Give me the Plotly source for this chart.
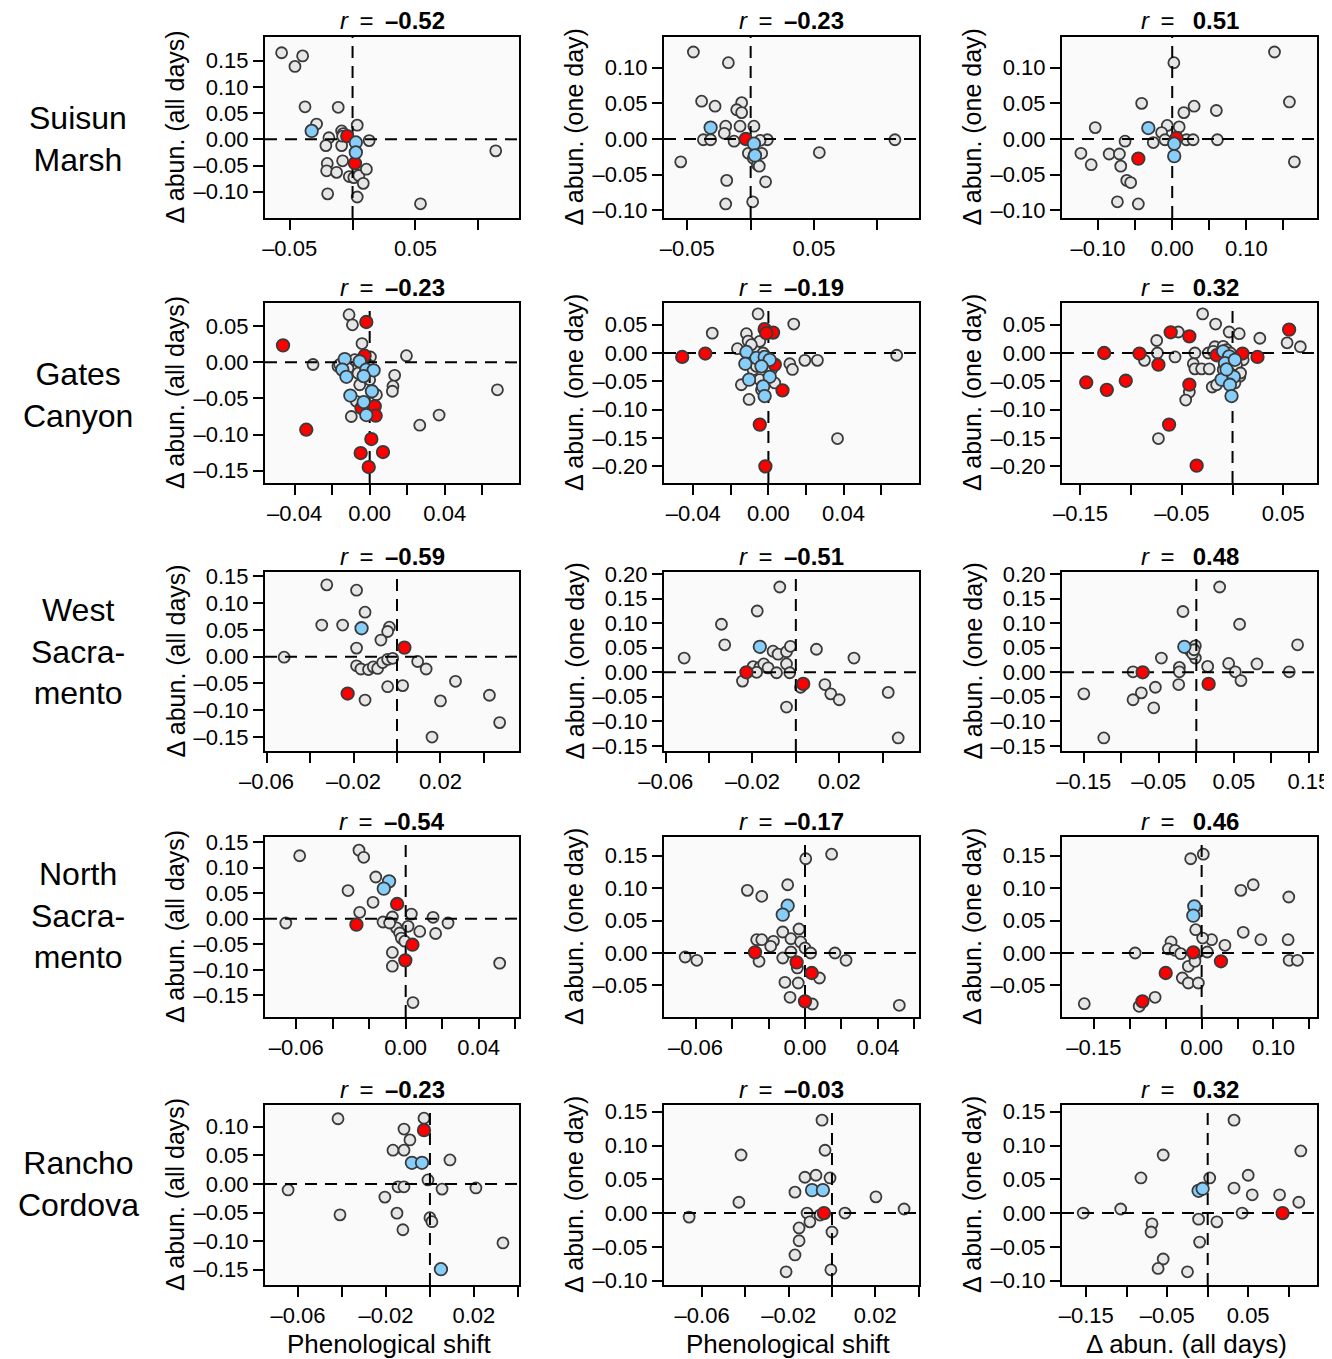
import plotly.graph_objects as go

# ---------------- text ----------------
SITES = ["Suisun<br>Marsh", "Gates<br>Canyon", "West<br>Sacra-<br>mento",
         "North<br>Sacra-<br>mento", "Rancho<br>Cordova"]
R_VALUES = [[-0.52, -0.23, 0.51],
            [-0.23, -0.19, 0.32],
            [-0.59, -0.51, 0.48],
            [-0.54, -0.17, 0.46],
            [-0.23, -0.03, 0.32]]
Y_TITLES = ["Δ abun. (all days)", "Δ abun. (one day)", "Δ abun. (one day)"]
X_TITLES = ["Phenological shift", "Phenological shift", "Δ abun. (all days)"]

# ---------------- data (x, y) ----------------
# Suisun Marsh
sm_shift_all_grey = [[-0.0564,0.165],[-0.0397,0.159],[-0.0458,0.139],[-0.0378,0.062],[-0.0114,0.061],[-0.0286,0.029],[0.0037,0.027],[-0.0087,0.016],[-0.0074,0.011],[-0.0188,0.003],[-0.0212,-0.012],[-0.0087,-0.012],[0.0132,-0.0025],[-0.0079,-0.041],[-0.0201,-0.046],[-0.0206,-0.060],[-0.0127,-0.063],[-0.0026,-0.071],[0.001,-0.073],[0.005,-0.069],[0.011,-0.057],[0.0085,-0.084],[-0.0198,-0.104],[0.0037,-0.110],[0.054,-0.123],[0.1138,-0.022],[-0.0079,0.006]]
sm_shift_all_red = [[-0.0042,0.006],[0.0019,-0.0456]]
sm_shift_all_blue = [[-0.0325,0.016],[0.0026,-0.006],[0.0026,-0.025]]

sm_shift_one_grey = [[-0.0452,0.122],[-0.0176,0.107],[-0.0387,0.053],[-0.0281,0.046],[-0.0071,0.051],[-0.011,0.041],[-0.0071,0.037],[-0.0197,0.018],[-0.0208,0.008],[-0.0084,0.018],[0.0026,0.018],[-0.0373,-0.001],[-0.0316,-0.001],[-0.0131,-0.003],[0.0132,-0.001],[-0.0018,-0.020],[0.0087,-0.020],[0.0021,-0.027],[0.0053,-0.036],[0.0068,-0.038],[0.0118,-0.060],[-0.0552,-0.032],[-0.0189,-0.058],[-0.0197,-0.091],[0.0016,-0.088],[0.0542,-0.019],[0.1139,-0.001],[0.0074,-0.002]]
sm_shift_one_red = [[-0.0039,0.000]]
sm_shift_one_blue = [[-0.0316,0.016],[0.0026,-0.0065],[0.0034,-0.023]]

sm_all_one_grey = [[0.1379,0.122],[0.0022,0.107],[-0.0412,0.050],[0.158,0.052],[0.0295,0.046],[0.0157,0.037],[0.0595,0.040],[-0.1038,0.016],[-0.0067,0.019],[0.0094,0.017],[-0.0143,0.009],[-0.0636,-0.003],[-0.0255,-0.005],[-0.0098,-0.001],[0.0192,-0.001],[0.0282,-0.001],[0.0609,-0.001],[-0.1231,-0.020],[-0.1092,-0.036],[-0.085,-0.021],[-0.0712,-0.021],[-0.0694,-0.038],[-0.0613,-0.058],[-0.056,-0.061],[-0.0739,-0.088],[-0.0457,-0.091],[0.1647,-0.032]]
sm_all_one_red = [[-0.0457,-0.0275],[0.0058,0.0014]]
sm_all_one_blue = [[-0.0322,0.0154],[0.0027,-0.0065],[0.0027,-0.024]]

# Gates Canyon
gc_shift_all_grey = [[-0.011,0.066],[-0.0092,0.052],[-0.0041,0.026],[-0.0302,-0.003],[-0.0169,-0.0055],[0.0004,0.0074],[0.0196,0.0092],[0.0133,-0.018],[0.0124,-0.033],[0.0121,-0.040],[0.0681,-0.038],[-0.0098,-0.075],[0.0267,-0.087],[0.037,-0.073],[-0.016,-0.003],[-0.0116,-0.008],[-0.008,0.0037],[-0.0062,-0.015],[-0.0009,-0.003],[-0.0053,-0.031],[0.0,-0.024],[-0.0071,-0.054],[-0.0009,-0.0656],[0.0036,-0.0448]]
gc_shift_all_red = [[-0.0462,0.0235],[-0.0018,0.0559],[-0.0027,0.0092],[-0.0338,-0.0933],[-0.0044,-0.0633],[0.0027,-0.061],[0.0032,-0.0739],[0.0009,-0.1062],[-0.0048,-0.1256],[0.0071,-0.1242],[-0.0005,-0.145]]
gc_shift_all_blue = [[-0.0133,0.0046],[-0.0146,-0.010],[-0.0124,-0.020],[-0.0053,0.0014],[-0.0018,-0.010],[0.0021,-0.011],[-0.0032,-0.019],[-0.0103,-0.046],[0.0012,-0.040],[-0.0032,-0.055],[-0.0018,-0.073]]

gc_shift_one_grey = [[-0.0055,0.069],[-0.0299,0.035],[0.0135,0.051],[-0.0117,0.034],[-0.0165,0.0076],[-0.0108,0.021],[0.0683,-0.004],[0.0114,-0.019],[0.0128,-0.029],[0.0194,-0.013],[0.0261,-0.013],[-0.0144,-0.056],[-0.0103,-0.082],[0.0368,-0.151],[-0.0037,-0.065],[-0.0073,0.0059],[-0.0046,0.0206],[-0.0091,0.0147],[-0.0028,0.0],[-0.0082,-0.0294],[0.0034,-0.0529],[-0.0046,-0.047],[-0.0064,-0.0235],[0.0016,-0.0294]]
gc_shift_one_red = [[-0.0459,-0.007],[-0.0336,-0.001],[-0.002,0.042],[0.0025,0.036],[-0.0011,0.035],[0.0034,-0.0206],[0.0075,-0.0659],[-0.0046,-0.1264],[-0.0016,-0.2]]
gc_shift_one_blue = [[-0.0117,0.0018],[-0.0123,-0.019],[-0.0064,-0.0088],[-0.002,-0.007],[0.0007,-0.012],[-0.0037,-0.0235],[-0.0103,-0.047],[0.0007,-0.042],[-0.0028,-0.059],[-0.002,-0.076]]

gc_all_one_grey = [[-0.0295,0.069],[-0.0167,0.051],[-0.0535,0.037],[-0.0748,0.022],[-0.0033,0.037],[0.0066,0.034],[0.0269,0.026],[0.0538,0.018],[0.0669,0.011],[-0.0741,0.0],[-0.0869,-0.013],[-0.0567,-0.007],[-0.0371,0.0],[-0.0387,-0.019],[-0.0371,-0.028],[-0.0305,-0.028],[-0.023,-0.028],[-0.02,-0.06],[-0.0157,-0.056],[-0.0426,-0.069],[-0.0462,-0.083],[-0.0731,-0.151],[-0.0239,0.0],[-0.0174,0.011],[0.0105,-0.012],[0.0072,-0.041],[-0.0092,0.0118],[-0.0059,0.0059],[-0.002,0.0],[0.0039,-0.0206],[0.0079,-0.0353],[0.0023,-0.0529],[-0.0043,-0.0353],[-0.0092,-0.0294],[-0.019,0.003]]
gc_all_one_red = [[-0.1443,-0.052],[-0.1266,0.0],[-0.124,-0.065],[-0.1053,-0.049],[-0.0918,-0.001],[-0.061,0.0365],[-0.0426,0.0294],[-0.0731,-0.0206],[-0.0426,-0.0559],[-0.0626,-0.1264],[-0.0354,-0.1988],[-0.0157,-0.004],[0.0098,-0.001],[0.0246,-0.007],[0.0558,0.0412]]
gc_all_one_blue = [[-0.0092,0.003],[-0.0033,-0.006],[-0.0075,-0.018],[0.0023,-0.012],[-0.0108,-0.047],[0.0013,-0.042],[-0.0026,-0.056],[-0.001,-0.076],[-0.0059,-0.029]]

# West Sacramento
ws_shift_all_grey = [[-0.0323,0.134],[-0.0186,0.124],[-0.0147,0.083],[-0.0346,0.059],[-0.025,0.059],[-0.0035,0.055],[-0.0043,0.047],[-0.0074,0.031],[-0.0186,0.016],[-0.0519,-0.001],[-0.0186,-0.017],[-0.0166,-0.023],[-0.0131,-0.024],[-0.0109,-0.019],[-0.0089,-0.022],[-0.0066,-0.011],[-0.0043,-0.005],[-0.002,-0.003],[0.0095,-0.009],[0.0134,-0.023],[-0.0043,-0.056],[0.0026,-0.054],[-0.0147,-0.081],[0.02,-0.0825],[0.0269,-0.046],[0.0425,-0.072],[0.0472,-0.123],[0.0161,-0.15]]
ws_shift_all_red = [[0.0034,0.0169],[-0.0227,-0.0688]]
ws_shift_all_blue = [[-0.0163,0.053]]

ws_shift_one_grey = [[-0.0074,0.174],[-0.0178,0.125],[-0.0343,0.098],[-0.0328,0.056],[-0.0515,0.029],[-0.0105,0.043],[-0.0082,0.037],[-0.0043,0.042],[-0.0025,0.053],[0.0095,0.047],[0.0268,0.029],[-0.0043,0.017],[-0.0197,0.0115],[-0.0166,0.010],[-0.0148,0.017],[-0.0128,0.009],[-0.0181,0.0],[-0.0089,-0.001],[-0.0028,-0.001],[-0.0246,-0.018],[0.0022,-0.0305],[0.0134,-0.025],[0.0161,-0.044],[0.02,-0.056],[0.0426,-0.041],[-0.0043,-0.071],[0.0472,-0.134]]
ws_shift_one_red = [[-0.0228,0.0],[0.0034,-0.0237]]
ws_shift_one_blue = [[-0.0166,0.052]]

ws_all_one_grey = [[0.0311,0.174],[-0.0178,0.124],[0.0577,0.098],[0.135,0.056],[-0.0466,0.029],[-0.0013,0.054],[-0.008,0.044],[-0.0013,0.029],[0.0151,0.012],[0.0431,0.018],[0.0808,0.017],[-0.0844,0.001],[-0.0226,0.010],[-0.0226,0.001],[0.052,0.001],[0.1239,0.001],[0.0595,-0.017],[-0.0235,-0.025],[-0.0546,-0.0305],[-0.0733,-0.042],[-0.0844,-0.056],[-0.0568,-0.0725],[-0.15,-0.044],[-0.1234,-0.134],[-0.005,0.038],[-0.003,0.046]]
ws_all_one_red = [[-0.0715,0.0],[0.0164,-0.0237]]
ws_all_one_blue = [[-0.016,0.052]]

# North Sacramento
ns_shift_all_grey = [[-0.0581,0.123],[-0.0256,0.134],[-0.023,0.12],[-0.0164,0.0815],[-0.0316,0.055],[-0.0179,0.032],[-0.0252,0.0124],[-0.0657,-0.0085],[-0.0124,-0.0065],[-0.0073,0.0033],[0.0031,0.009],[0.015,0.0026],[0.0232,-0.0085],[0.0164,-0.029],[0.0077,-0.025],[0.0013,-0.015],[-0.0051,-0.018],[-0.0033,-0.028],[-0.0024,-0.038],[-0.0005,-0.044],[-0.0073,-0.066],[-0.0073,-0.093],[0.004,-0.164],[0.0515,-0.087],[-0.0088,-0.0085]]
ns_shift_all_red = [[-0.027,-0.0117],[-0.0047,0.0287],[0.0037,-0.0509],[-0.0002,-0.0815]]
ns_shift_all_blue = [[-0.0091,0.073],[-0.012,0.0587]]

ns_shift_one_grey = [[0.0004,0.145],[0.0146,0.152],[-0.0095,0.105],[-0.0316,0.0964],[-0.0237,0.0872],[-0.0122,0.0323],[-0.0033,0.0369],[-0.0265,0.0205],[-0.0237,0.0205],[-0.0173,0.018],[-0.0188,0.0103],[-0.0077,0.022],[-0.0024,0.017],[0.0,0.0077],[0.0031,0.0],[-0.0657,-0.0062],[-0.0593,-0.0113],[-0.0252,-0.0128],[-0.0122,-0.0077],[-0.0077,0.0015],[-0.0042,-0.023],[0.0164,0.0],[0.0225,-0.0113],[0.0079,-0.0385],[-0.011,-0.0451],[-0.0037,-0.0462],[-0.0082,-0.0682],[0.004,-0.0785],[0.0517,-0.0805]]
ns_shift_one_red = [[-0.0274,0.001],[-0.0046,-0.0144],[0.0037,-0.0308],[0.0,-0.0744]]
ns_shift_one_blue = [[-0.0095,0.0728],[-0.0122,0.059]]

ns_all_one_grey = [[-0.0153,0.145],[0.0023,0.152],[0.0546,0.0964],[0.0718,0.105],[0.1213,0.0862],[0.0579,0.0318],[0.0824,0.0205],[0.1204,0.0205],[0.0324,0.0118],[0.0139,0.0205],[0.0014,0.023],[-0.0083,0.0359],[-0.0426,0.017],[-0.0463,0.0062],[-0.037,0.0041],[-0.0292,-0.001],[-0.0926,0.0],[0.0079,0.0015],[0.1218,-0.0113],[0.1333,-0.0113],[-0.0185,-0.0205],[-0.0269,-0.0385],[-0.0185,-0.0462],[-0.0046,-0.0462],[-0.0648,-0.0682],[-0.087,-0.0821],[-0.1634,-0.078],[-0.0093,-0.0077],[-0.0093,-0.0128]]
ns_all_one_red = [[-0.0116,0.001],[0.0269,-0.0128],[-0.05,-0.0308],[-0.0824,-0.0744]]
ns_all_one_blue = [[-0.0102,0.0718],[-0.0116,0.0575]]

# Rancho Cordova
rc_shift_all_grey = [[-0.0418,0.114],[-0.0645,-0.0105],[-0.0409,-0.054],[-0.0118,0.096],[-0.0027,0.115],[-0.0091,0.077],[-0.0168,0.059],[-0.0118,0.059],[0.0091,0.042],[-0.0145,-0.005],[-0.0118,-0.005],[-0.0205,-0.023],[-0.0009,0.007],[0.0055,-0.009],[0.0209,-0.007],[-0.015,-0.051],[-0.0123,-0.080],[0.0,-0.059],[0.0009,-0.066],[0.0332,-0.103]]
rc_shift_all_red = [[-0.0027,0.094]]
rc_shift_all_blue = [[-0.0082,0.037],[-0.0036,0.037],[0.005,-0.149]]

rc_shift_one_grey = [[-0.0046,0.1376],[-0.042,0.086],[-0.0032,0.093],[-0.0125,0.053],[-0.0074,0.056],[-0.0009,0.052],[-0.0171,0.031],[-0.043,0.016],[0.0203,0.024],[0.0333,0.006],[-0.066,-0.006],[-0.0115,0.0],[-0.0055,-0.003],[0.006,0.0],[0.0,-0.028],[-0.0152,-0.022],[-0.0152,-0.041],[-0.0171,-0.062],[-0.0212,-0.087],[-0.0005,-0.084],[-0.0102,-0.013]]
rc_shift_one_red = [[-0.0037,0.0]]
rc_shift_one_blue = [[-0.0092,0.034],[-0.0042,0.034]]

rc_all_one_grey = [[0.0325,0.1376],[-0.0825,0.052],[-0.055,0.086],[0.0025,0.052],[0.05,0.056],[0.0325,0.037],[0.055,0.027],[0.0888,0.027],[0.115,0.092],[0.1125,0.016],[-0.1538,0.0],[-0.1075,0.006],[0.0425,0.0],[0.0113,-0.013],[-0.0113,-0.009],[-0.0688,-0.016],[-0.07,-0.028],[-0.01,-0.043],[-0.055,-0.068],[-0.0613,-0.082],[-0.025,-0.087]]
rc_all_one_red = [[0.0925,0.0]]
rc_all_one_blue = [[-0.0113,0.033],[-0.0063,0.036]]

PANEL_DATA = [
    [(sm_shift_all_grey, sm_shift_all_red, sm_shift_all_blue),
     (sm_shift_one_grey, sm_shift_one_red, sm_shift_one_blue),
     (sm_all_one_grey, sm_all_one_red, sm_all_one_blue)],
    [(gc_shift_all_grey, gc_shift_all_red, gc_shift_all_blue),
     (gc_shift_one_grey, gc_shift_one_red, gc_shift_one_blue),
     (gc_all_one_grey, gc_all_one_red, gc_all_one_blue)],
    [(ws_shift_all_grey, ws_shift_all_red, ws_shift_all_blue),
     (ws_shift_one_grey, ws_shift_one_red, ws_shift_one_blue),
     (ws_all_one_grey, ws_all_one_red, ws_all_one_blue)],
    [(ns_shift_all_grey, ns_shift_all_red, ns_shift_all_blue),
     (ns_shift_one_grey, ns_shift_one_red, ns_shift_one_blue),
     (ns_all_one_grey, ns_all_one_red, ns_all_one_blue)],
    [(rc_shift_all_grey, rc_shift_all_red, rc_shift_all_blue),
     (rc_shift_one_grey, rc_shift_one_red, rc_shift_one_blue),
     (rc_all_one_grey, rc_all_one_red, rc_all_one_blue)],
]

# ---------------- axis ticks: (x ticks, labelled x ticks, y ticks, x range, y range) ----------------
AXES = [
    [([-0.05,0,0.05,0.10], [-0.05,0.05], [0.15,0.10,0.05,0,-0.05,-0.10], [-0.0696,0.1323], [-0.150,0.195]),
     ([-0.05,0,0.05,0.10], [-0.05,0.05], [0.10,0.05,0,-0.05,-0.10], [-0.0684,0.1329], [-0.1107,0.143]),
     ([-0.10,-0.05,0,0.05,0.10,0.15], [-0.10,0,0.10], [0.10,0.05,0,-0.05,-0.10], [-0.1486,0.1952], [-0.1107,0.143])],
    [([-0.04,-0.02,0,0.02,0.04,0.06], [-0.04,0,0.04], [0.05,0,-0.05,-0.10,-0.15], [-0.0558,0.0796], [-0.1671,0.0822]),
     ([-0.04,-0.02,0,0.02,0.04,0.06], [-0.04,0,0.04], [0.05,0,-0.05,-0.10,-0.15,-0.20], [-0.0556,0.0802], [-0.2294,0.0882]),
     ([-0.15,-0.10,-0.05,0,0.05], [-0.15,-0.05,0.05], [0.05,0,-0.05,-0.10,-0.15,-0.20], [-0.1682,0.0833], [-0.2294,0.0882])],
    [([-0.06,-0.04,-0.02,0,0.02,0.04], [-0.06,-0.02,0.02], [0.15,0.10,0.05,0,-0.05,-0.10,-0.15], [-0.0607,0.0561], [-0.176,0.158]),
     ([-0.06,-0.04,-0.02,0,0.02,0.04], [-0.06,-0.02,0.02], [0.20,0.15,0.10,0.05,0,-0.05,-0.10,-0.15], [-0.0608,0.0568], [-0.1606,0.2046]),
     ([-0.15,-0.10,-0.05,0,0.05,0.10,0.15], [-0.15,-0.05,0.05,0.15], [0.20,0.15,0.10,0.05,0,-0.05,-0.10,-0.15], [-0.1791,0.1609], [-0.1606,0.2046])],
    [([-0.06,-0.04,-0.02,0,0.02,0.04,0.06], [-0.06,0,0.04], [0.15,0.10,0.05,0,-0.05,-0.10,-0.15], [-0.0771,0.0621], [-0.1923,0.1597]),
     ([-0.06,-0.04,-0.02,0,0.02,0.04,0.06], [-0.06,0,0.04], [0.15,0.10,0.05,0,-0.05], [-0.0773,0.0625], [-0.0985,0.1785]),
     ([-0.15,-0.10,-0.05,0,0.05,0.10,0.15], [-0.15,0,0.10], [0.15,0.10,0.05,0,-0.05], [-0.1944,0.1606], [-0.0985,0.1785])],
    [([-0.06,-0.04,-0.02,0,0.02,0.04], [-0.06,-0.02,0.02], [0.10,0.05,0,-0.05,-0.10,-0.15], [-0.075,0.0405], [-0.1766,0.138]),
     ([-0.06,-0.04,-0.02,0,0.02,0.04], [-0.06,-0.02,0.02], [0.15,0.10,0.05,0,-0.05,-0.10], [-0.0776,0.0402], [-0.1065,0.160]),
     ([-0.15,-0.10,-0.05,0,0.05,0.10], [-0.15,-0.05,0.05], [0.15,0.10,0.05,0,-0.05,-0.10], [-0.180,0.135], [-0.1065,0.160])],
]

# ---------------- layout (pixels in the page; the page body adds an 8px margin) ----------------
PAGE_W, PAGE_H = 1332, 1359
OFF = 8
W, H = PAGE_W - OFF, PAGE_H - OFF
COLS = [(265, 519), (664, 919), (1062, 1317)]
ROWS = [(37, 218), (303, 483), (572, 751), (837, 1017), (1105, 1285)]
ROW_LABEL_Y = [139, 395, 652, 915, 1184]
FONT = "Liberation Sans, Arial, Helvetica, sans-serif"
GREY, RED, BLUE, EDGE = "#E6E6E6", "#FF0000", "#87CEFA", "#3A3A3A"
DASH = dict(color="black", width=2, dash="12px,8px")


def fmt(v):
    s = f"{abs(v):.2f}"
    return ("\u2013" + s) if v < -1e-12 else s


def px_x(p):
    return (p - OFF) / W


def px_y(p):
    return 1 - (p - OFF) / H


def pts_trace(pts, col, size, xa, ya):
    return go.Scatter(
        x=[p[0] for p in pts], y=[p[1] for p in pts], mode="markers",
        xaxis=xa, yaxis=ya, hoverinfo="skip", cliponaxis=True,
        marker=dict(size=size, color=col, line=dict(color=EDGE, width=1.8)))


fig = go.Figure()
annotations = []
k = 0
for ri in range(5):
    for ci in range(3):
        k += 1
        xa = "x" if k == 1 else f"x{k}"
        ya = "y" if k == 1 else f"y{k}"
        grey, red, blue = PANEL_DATA[ri][ci]
        xt, xlab, yt, xr, yr = AXES[ri][ci]
        # grey points, then the dashed zero lines, then highlighted points
        fig.add_trace(pts_trace(grey, GREY, 11, xa, ya))
        fig.add_trace(go.Scatter(x=[0, 0], y=list(yr), mode="lines", line=DASH,
                                 xaxis=xa, yaxis=ya, hoverinfo="skip"))
        fig.add_trace(go.Scatter(x=list(xr), y=[0, 0], mode="lines", line=DASH,
                                 xaxis=xa, yaxis=ya, hoverinfo="skip"))
        fig.add_trace(pts_trace(red, RED, 12.5, xa, ya))
        fig.add_trace(pts_trace(blue, BLUE, 12.5, xa, ya))
        x0, x1 = COLS[ci]
        y0, y1 = ROWS[ri]
        common = dict(showline=True, linecolor="black", linewidth=2, mirror=True,
                      ticks="outside", ticklen=10, tickwidth=2, tickcolor="black",
                      showgrid=False, zeroline=False, fixedrange=True, automargin=False,
                      tickfont=dict(family=FONT, size=22, color="black"))
        xkey = "xaxis" if k == 1 else f"xaxis{k}"
        ykey = "yaxis" if k == 1 else f"yaxis{k}"
        fig.update_layout({
            xkey: dict(domain=[px_x(x0), px_x(x1)], anchor=ya, range=xr,
                       tickvals=xt,
                       ticktext=[fmt(v) if any(abs(v - l) < 1e-9 for l in xlab) else "" for v in xt],
                       ticklabelstandoff=0, **common),
            ykey: dict(domain=[px_y(y1), px_y(y0)], anchor=xa, range=yr,
                       tickvals=yt, ticktext=[fmt(v) for v in yt],
                       ticklabelstandoff=0, **common),
        })
        # title
        r = R_VALUES[ri][ci]
        gap = "\u00a0\u2009"
        extra = "\u00a0" if r >= 0 else ""
        annotations.append(dict(
            text=f"<i>r</i>{gap}={gap}{extra}<b>{fmt(r)}</b>",
            x=px_x((x0 + x1) / 2), y=px_y(y0 - 16), xref="paper", yref="paper",
            xanchor="center", yanchor="middle", showarrow=False,
            font=dict(family=FONT, size=24, color="black")))
        # y title
        annotations.append(dict(
            text=Y_TITLES[ci], textangle=-90,
            x=px_x(x0 - 90), y=px_y((y0 + y1) / 2), xref="paper", yref="paper",
            xanchor="center", yanchor="middle", showarrow=False,
            font=dict(family=FONT, size=25, color="black")))
        if ri == 4:
            annotations.append(dict(
                text=X_TITLES[ci], x=px_x((x0 + x1) / 2 - 3), y=px_y(1344),
                xref="paper", yref="paper", xanchor="center", yanchor="middle",
                showarrow=False, font=dict(family=FONT, size=26, color="black")))
    annotations.append(dict(
        text=SITES[ri], x=px_x(78), y=px_y(ROW_LABEL_Y[ri]), xref="paper", yref="paper",
        xanchor="center", yanchor="middle", showarrow=False, align="center",
        font=dict(family=FONT, size=32, color="black")))

fig.update_layout(width=W, height=H, margin=dict(l=0, r=0, t=0, b=0),
                  paper_bgcolor="white", plot_bgcolor="#FAFAFA",
                  showlegend=False, annotations=annotations)

fig.write_html("out.html")
